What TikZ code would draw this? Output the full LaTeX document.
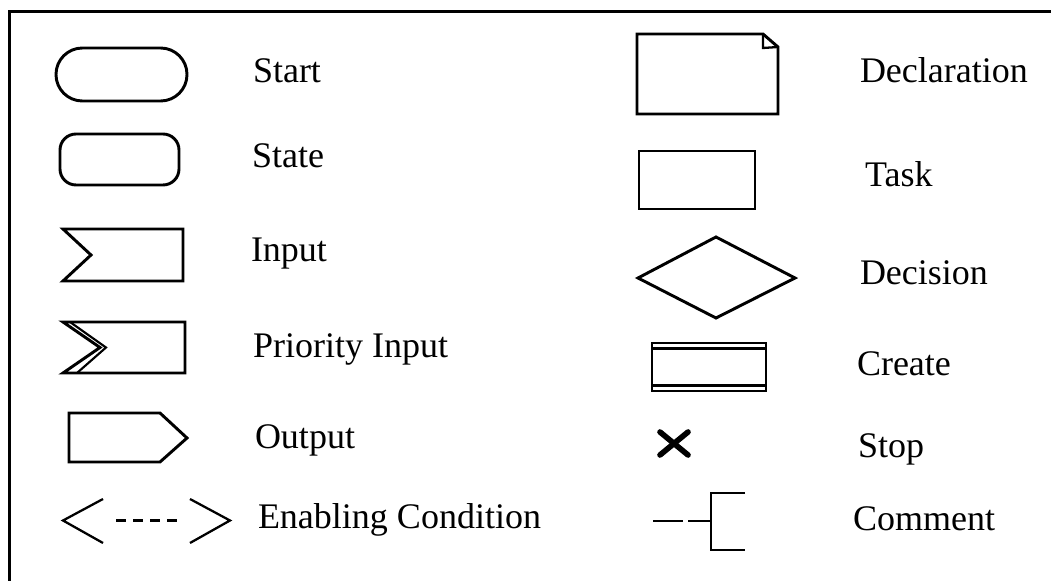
\documentclass[tikz,border=0pt]{standalone}
\usepackage{fontspec}
\setmainfont{Liberation Serif}
\begin{document}
\begin{tikzpicture}[x=0.75pt,y=-0.75pt,
  shp/.style={line width=2.2pt, line join=miter},
  thin/.style={line width=1.7pt},
  lbl/.style={anchor=base west, inner sep=0pt, outer sep=0pt, font=\fontsize{27}{30}\selectfont}]
\useasboundingbox (0,0) rectangle (1051,581);
\fill[white] (0,0) rectangle (1051,581);
% frame (only top and left edges visible)
\draw[line width=2.3pt] (9.5,581) -- (9.5,11.5) -- (1051,11.5);
% Start
\draw[shp, rounded corners=19.8pt] (56,48) rectangle (187,101);
\node[lbl] (start) at (253,83) {Start};
% State
\draw[shp, rounded corners=12pt] (60,134) rectangle (179,185);
\node[lbl] (state) at (252,168) {State};
% Input
\draw[shp] (63,229) -- (183,229) -- (183,281) -- (63,281) -- (91,255) -- cycle;
\node[lbl] (input) at (251,262) {Input};
% Priority Input
\draw[shp] (63,322) -- (185,322) -- (185,373) -- (63,373) -- (100,347.5) -- cycle;
\draw[line width=1.6pt] (70,322) -- (106,347.5) -- (77,373);
\node[lbl] (prio) at (253,358) {Priority Input};
% Output
\draw[shp] (69,413) -- (160,413) -- (187,438) -- (160,462) -- (69,462) -- cycle;
\node[lbl] (output) at (255,448) {Output};
% Enabling condition
\draw[thin] (103,499) -- (63,520.5) -- (103,543);
\draw[thin] (190,499) -- (230,520.5) -- (190,543);
\draw[line width=1.8pt, dash pattern=on 7.5pt off 5.25pt] (116,520.5) -- (177,520.5);
\node[lbl] (enab) at (258,528) {Enabling Condition};
% Declaration
\draw[shp] (637,34) -- (763,34) -- (778,47) -- (778,114) -- (637,114) -- cycle;
\draw[line width=1.7pt] (763,34) -- (763,48) -- (778,47);
\node[lbl] (decl) at (860,83) {Declaration};
% Task
\draw[shp] (639,151) rectangle (755,209);
\node[lbl] (task) at (865,187) {Task};
% Decision
\draw[shp] (638,278) -- (716,237) -- (795,278) -- (716,318) -- cycle;
\node[lbl] (decision) at (860,285) {Decision};
% Create
\draw[shp] (652,343) rectangle (766,391);
\draw[line width=1.8pt] (652,348.5) -- (766,348.5) (652,385.5) -- (766,385.5);
\node[lbl] (create) at (857,375) {Create};
% Stop
\draw[line width=4.2pt, line cap=round] (660,432) -- (688,455) (660,455) -- (688,432);
\node[lbl] (stop) at (858,457) {Stop};
% Comment
\draw[line width=2.2pt] (653,521) -- (683,521) (688,521) -- (711,521);
\draw[line width=2.2pt] (745,493) -- (711,493) -- (711,550) -- (745,550);
\node[lbl] (comment) at (853,530) {Comment};
\end{tikzpicture}
\end{document}
